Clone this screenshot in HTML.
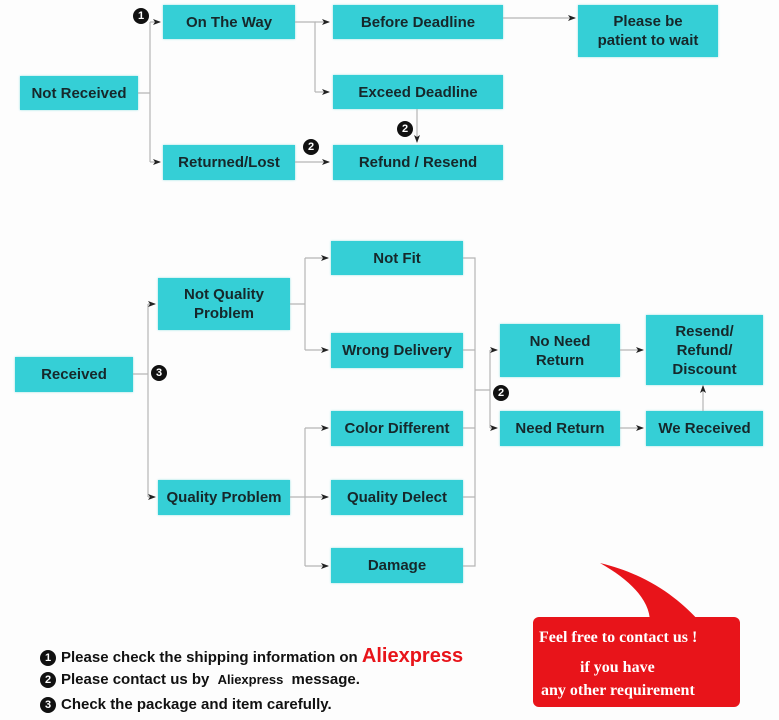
<!DOCTYPE html>
<html><head><style>
body{margin:0;width:779px;height:720px;background:#fdfdfd;position:relative;overflow:hidden;font-family:"Liberation Sans",sans-serif}
.b{position:absolute;background:#35cfd6;color:#16282b;font-weight:bold;font-size:15px;display:flex;align-items:center;justify-content:center;text-align:center;line-height:19px;box-shadow:0 0 2px #8fdfe3}
.n{position:absolute;width:16px;height:16px;border-radius:50%;background:#111;color:#fff;font-size:11px;font-weight:bold;text-align:center;line-height:16px}
.t{position:absolute;left:40px;font-weight:bold;font-size:15px;color:#111;white-space:nowrap}
.t .n{position:relative;display:inline-block;margin-right:5px;top:-1px}
svg{position:absolute;left:0;top:0}
</style></head><body>
<div class="b" style="left:20px;top:76px;width:118px;height:34px">Not Received</div>
<div class="b" style="left:163px;top:5px;width:132px;height:34px">On The Way</div>
<div class="b" style="left:333px;top:5px;width:170px;height:34px">Before Deadline</div>
<div class="b" style="left:578px;top:5px;width:140px;height:52px">Please be<br>patient to wait</div>
<div class="b" style="left:333px;top:75px;width:170px;height:34px">Exceed Deadline</div>
<div class="b" style="left:163px;top:145px;width:132px;height:35px">Returned/Lost</div>
<div class="b" style="left:333px;top:145px;width:170px;height:35px">Refund / Resend</div>
<div class="b" style="left:15px;top:357px;width:118px;height:35px">Received</div>
<div class="b" style="left:158px;top:278px;width:132px;height:52px">Not Quality<br>Problem</div>
<div class="b" style="left:331px;top:241px;width:132px;height:34px">Not Fit</div>
<div class="b" style="left:331px;top:333px;width:132px;height:35px">Wrong Delivery</div>
<div class="b" style="left:331px;top:411px;width:132px;height:35px">Color Different</div>
<div class="b" style="left:331px;top:480px;width:132px;height:35px">Quality Delect</div>
<div class="b" style="left:331px;top:548px;width:132px;height:35px">Damage</div>
<div class="b" style="left:158px;top:480px;width:132px;height:35px">Quality Problem</div>
<div class="b" style="left:500px;top:324px;width:120px;height:53px">No Need<br>Return</div>
<div class="b" style="left:500px;top:411px;width:120px;height:35px">Need Return</div>
<div class="b" style="left:646px;top:315px;width:117px;height:70px">Resend/<br>Refund/<br>Discount</div>
<div class="b" style="left:646px;top:411px;width:117px;height:35px">We Received</div>
<svg width="779" height="720">
<defs><marker id="a" markerWidth="8" markerHeight="6" refX="7" refY="3" orient="auto" markerUnits="userSpaceOnUse"><path d="M0,0L8,3L0,6L2,3z" fill="#222"/></marker></defs>
<g stroke="#b5b5b5" stroke-width="1.2" fill="none">
<path d="M138,93H150M150,22V162"/>
<path d="M295,22H315V92"/>
<path d="M133,374H148M148,304V497"/>
<path d="M290,304H305M305,258V350M290,497H305M305,428V566"/>
<path d="M463,258H475V566H463M463,350H475M463,428H475M463,497H475M475,390H490M490,350V428"/>
</g>
<g stroke="#b5b5b5" stroke-width="1.2" fill="none" marker-end="url(#a)">
<path d="M150,22H160"/><path d="M150,162H160"/>
<path d="M315,22H329"/><path d="M315,92H329"/><path d="M503,18H575"/><path d="M295,162H329"/><path d="M417,109V142"/>
<path d="M148,304H155"/><path d="M148,497H155"/>
<path d="M305,258H328"/><path d="M305,350H328"/><path d="M305,428H328"/><path d="M305,497H328"/><path d="M305,566H328"/>
<path d="M490,350H497"/><path d="M490,428H497"/><path d="M620,350H643"/><path d="M620,428H643"/><path d="M703,411V386"/>
</g>
<path d="M600,563C650,575 680,600 700,622L650,622C650,600 630,580 600,563Z" fill="#e8141a"/>
</svg>
<div class="n" style="left:133px;top:8px">1</div>
<div class="n" style="left:303px;top:139px">2</div>
<div class="n" style="left:397px;top:121px">2</div>
<div class="n" style="left:151px;top:365px">3</div>
<div class="n" style="left:493px;top:385px">2</div>
<div style="position:absolute;left:533px;top:617px;width:207px;height:90px;background:#e8141a;border-radius:6px;color:#fff;font-family:'Liberation Serif',serif;font-weight:bold;font-size:16px;line-height:23px">
<div style="position:absolute;left:6px;top:9px;white-space:nowrap">Feel free to contact us !</div>
<div style="position:absolute;left:47px;top:39px;white-space:nowrap">if you have</div>
<div style="position:absolute;left:8px;top:62px;white-space:nowrap">any other requirement</div>
</div>
<div class="t" style="top:645px"><span class="n">1</span>Please check the shipping information on <span style="color:#e8141a;font-size:20px">Aliexpress</span></div>
<div class="t" style="top:671px"><span class="n">2</span>Please contact us by <span style="font-size:13px;margin:0 4px">Aliexpress</span> message.</div>
<div class="t" style="top:696px"><span class="n">3</span>Check the package and item carefully.</div>
</body></html>
